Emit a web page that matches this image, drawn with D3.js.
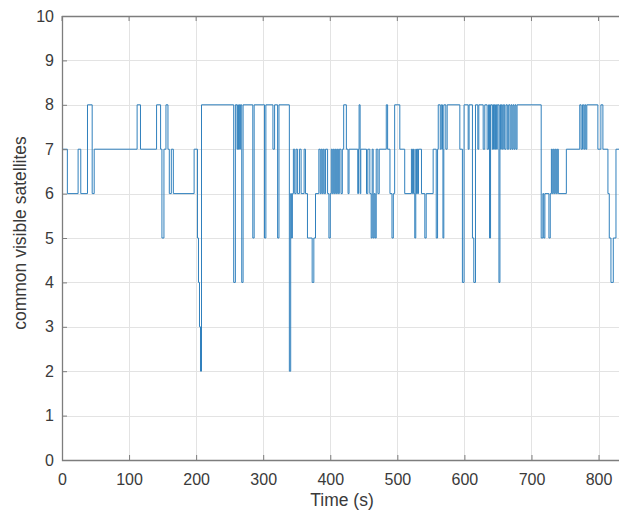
<!DOCTYPE html>
<html>
<head>
<meta charset="utf-8">
<script src="https://cdn.jsdelivr.net/npm/d3@7"></script>
<style>
    html, body { margin: 0; padding: 0; background: #fff; }
    text { font-family: "Liberation Sans", Arial, sans-serif; fill: #3a3a3a; }
</style>
</head>
<body>
<div id="chart"></div>
<script>
"use strict";

// time (s) at which the count changes, and the count from then on
var stepTimes = [
    0, 8, 24, 28, 38, 45, 48, 112, 117, 141, 147, 149, 152, 155, 158, 160, 163, 166, 197, 202, 203.5, 205, 206.5, 208,
    256, 258.5, 261, 262, 263, 264, 265, 266, 268, 270, 284.5, 286.5, 302, 304, 314.5, 317, 321.5, 323.5,
    339, 341, 342, 343.5, 345, 347, 349, 351, 354, 356.5, 361, 363, 366, 373, 375.5, 378, 383, 385, 386.5, 388, 389.5,
    391, 393, 396, 398, 400, 401.5, 403, 404.5, 406, 407.5, 409, 410.5, 412, 413.5,
    416, 418, 420, 424, 426.5, 428, 441, 442, 443, 444.5, 445.5, 454, 456, 459, 461, 462.5, 464, 465.5, 467, 468.5,
    471, 473, 483.5, 485.5, 489, 492, 494, 496, 503.7, 511, 521, 522.5, 524, 525, 526, 527.5, 528.5, 529.5, 530.5,
    531.5, 536, 541, 543, 553.4, 558, 560, 561, 564, 565.5, 567.3, 568, 569.3, 572.3, 574.3, 593.2, 597, 599.5,
    605.6, 607, 612, 614, 616.5, 620, 621.5,
    628, 630.4, 633.9, 636, 637.5, 639, 641.5, 642.5, 643.5, 644.5, 645.5, 646.5, 648, 649, 651.5, 653, 654, 655,
    656.5, 658, 660, 662, 664, 666, 668, 669.5, 671, 672.5, 674, 675.5, 677, 678.5, 714.5, 717, 718.3, 720, 726,
    728, 729.7, 731, 732.5, 734, 735.5, 737, 738.5, 740, 752, 772, 774, 776, 778, 779.5, 781, 782.5, 799, 803.5,
    806.5, 814, 816, 818.5, 822, 826, 840
];
var stepCounts = [
    7, 6, 7, 6, 8, 6, 7, 8, 7, 8, 7, 5, 7, 8, 7, 6, 7, 6, 7, 5, 4, 3, 2, 8,
    4, 8, 7, 8, 7, 8, 7, 8, 4, 8, 5, 8, 5, 8, 7, 8, 5, 8,
    2, 6, 5, 6, 7, 6, 7, 6, 7, 6, 7, 6, 5, 4, 5, 6, 7, 6, 7, 6, 7,
    6, 7, 6, 5, 6, 7, 6, 7, 6, 7, 6, 7, 6, 7,
    6, 7, 8, 7, 6, 7, 6, 7, 8, 6, 7, 6, 7, 6, 5, 7, 5, 6, 5, 7,
    6, 7, 8, 7, 6, 5, 6, 8, 7, 6, 7, 6, 7, 6, 5, 7, 6, 7, 6,
    7, 6, 5, 6, 7, 5, 7, 8, 7, 8, 7, 5, 8, 7, 8, 7, 4, 8,
    7, 8, 5, 4, 8, 7, 8,
    7, 8, 7, 8, 5, 8, 7, 8, 7, 8, 7, 8, 7, 8, 4, 8, 7, 8,
    7, 8, 7, 8, 7, 8, 7, 8, 7, 8, 7, 8, 7, 8, 5, 6, 5, 6, 5,
    6, 7, 6, 7, 6, 7, 6, 7, 6, 7, 8, 7, 8, 7, 8, 7, 8, 7, 8,
    7, 6, 5, 4, 5, 7, 7
];
var xTicks = [0, 100, 200, 300, 400, 500, 600, 700, 800];
var yTicks = [0, 1, 2, 3, 4, 5, 6, 7, 8, 9, 10];

var width = 619, height = 514;
var plotLeft = 62, plotTop = 16, plotRight = 620, plotBottom = 460;
var tickLen = 5;

var svg = d3.select("#chart")
    .append("svg")
    .attr("width", width)
    .attr("height", height);

var x = d3.scaleLinear().domain([0, 832]).range([plotLeft, plotRight]);
var y = d3.scaleLinear().domain([0, 10]).range([plotBottom, plotTop]);

// grid
var grid = svg.append("g").attr("stroke", "#e3e3e3").attr("stroke-width", 1);
grid.selectAll(".gx")
    .data(xTicks.slice(1))
    .enter().append("line")
    .attr("x1", function (d) { return Math.round(x(d)) + 0.5; })
    .attr("x2", function (d) { return Math.round(x(d)) + 0.5; })
    .attr("y1", plotTop)
    .attr("y2", plotBottom);
grid.selectAll(".gy")
    .data(yTicks.slice(1))
    .enter().append("line")
    .attr("x1", plotLeft)
    .attr("x2", plotRight)
    .attr("y1", function (d) { return Math.round(y(d)) + 0.5; })
    .attr("y2", function (d) { return Math.round(y(d)) + 0.5; });

// step series
var points = stepTimes.map(function (t, i) { return [t, stepCounts[i]]; });
var line = d3.line()
    .x(function (d) { return x(d[0]); })
    .y(function (d) { return y(d[1]); })
    .curve(d3.curveStepAfter);

svg.append("defs").append("clipPath").attr("id", "clip")
    .append("rect").attr("x", plotLeft).attr("y", plotTop)
    .attr("width", plotRight - plotLeft).attr("height", plotBottom - plotTop);

svg.append("path")
    .datum(points)
    .attr("clip-path", "url(#clip)")
    .attr("fill", "none")
    .attr("stroke", "#3080bd")
    .attr("stroke-width", 1)
    .attr("d", line);

// axes, MATLAB style: box with inward ticks
var xAxis = d3.axisBottom(x).tickValues(xTicks).tickSize(-tickLen).tickPadding(14);
var yAxis = d3.axisLeft(y).tickValues(yTicks).tickSize(-tickLen).tickPadding(8);

var gx = svg.append("g").attr("transform", "translate(0," + plotBottom + ")").call(xAxis);
var gy = svg.append("g").attr("transform", "translate(" + plotLeft + ",0)").call(yAxis);

[gx, gy].forEach(function (g) {
    g.select(".domain").remove();
    g.selectAll(".tick line").attr("stroke", "#7d7d7d");
    g.selectAll(".tick text").attr("font-size", 16).style("fill", "#3a3a3a");
});

svg.append("g")
    .selectAll("line")
    .data(xTicks)
    .enter().append("line")
    .attr("x1", function (d) { return x(d); })
    .attr("x2", function (d) { return x(d); })
    .attr("y1", plotTop)
    .attr("y2", plotTop + tickLen)
    .attr("stroke", "#7d7d7d");

svg.append("path")
    .attr("d", "M" + plotRight + "," + (plotTop + 0.5) + "H" + (plotLeft + 0.5) + "V" + (plotBottom + 0.5) + "H" + plotRight)
    .attr("fill", "none")
    .attr("stroke", "#7d7d7d")
    .attr("stroke-width", 1.3);

svg.append("text")
    .attr("x", 342)
    .attr("y", 506)
    .attr("text-anchor", "middle")
    .attr("font-size", 17.5)
    .text("Time (s)");

svg.append("text")
    .attr("transform", "translate(26," + 233 + ") rotate(-90)")
    .attr("text-anchor", "middle")
    .attr("font-size", 17.5)
    .text("common visible satellites");
</script>
</body>
</html>
